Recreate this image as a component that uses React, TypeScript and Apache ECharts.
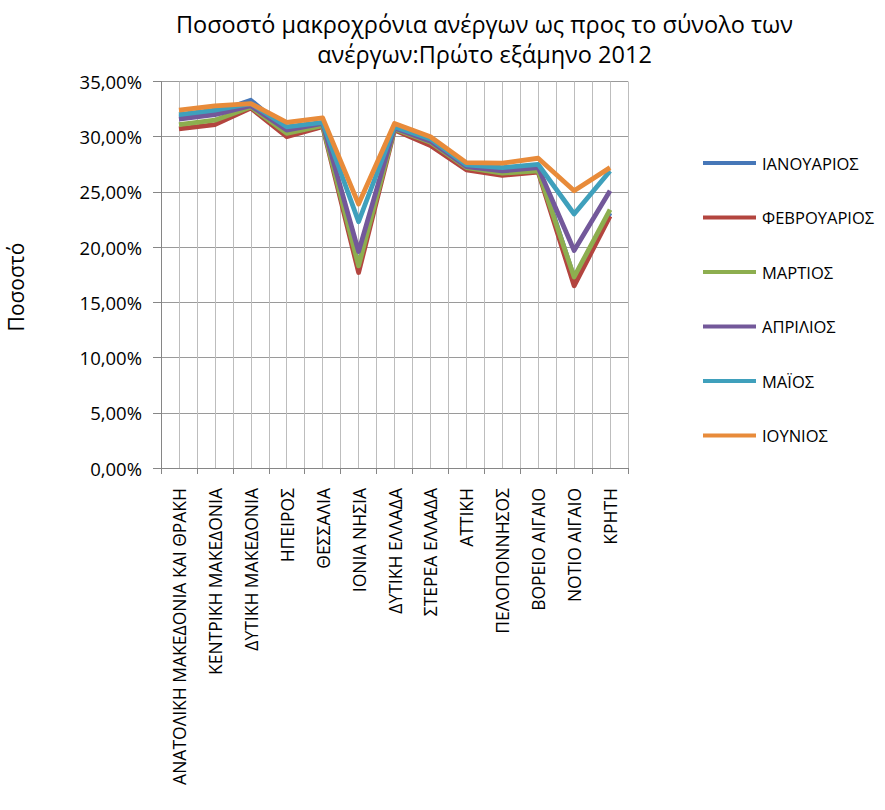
import React, { useEffect, useRef } from "react";
import * as echarts from "echarts";

const categories = [
  "ΑΝΑΤΟΛΙΚΗ ΜΑΚΕΔΟΝΙΑ ΚΑΙ ΘΡΑΚΗ",
  "ΚΕΝΤΡΙΚΗ ΜΑΚΕΔΟΝΙΑ",
  "ΔΥΤΙΚΗ ΜΑΚΕΔΟΝΙΑ",
  "ΗΠΕΙΡΟΣ",
  "ΘΕΣΣΑΛΙΑ",
  "ΙΟΝΙΑ ΝΗΣΙΑ",
  "ΔΥΤΙΚΗ ΕΛΛΑΔΑ",
  "ΣΤΕΡΕΑ ΕΛΛΑΔΑ",
  "ΑΤΤΙΚΗ",
  "ΠΕΛΟΠΟΝΝΗΣΟΣ",
  "ΒΟΡΕΙΟ ΑΙΓΑΙΟ",
  "ΝΟΤΙΟ ΑΙΓΑΙΟ",
  "ΚΡΗΤΗ",
];

const seriesNames = ["ΙΑΝΟΥΑΡΙΟΣ", "ΦΕΒΡΟΥΑΡΙΟΣ", "ΜΑΡΤΙΟΣ", "ΑΠΡΙΛΙΟΣ", "ΜΑΪΟΣ", "ΙΟΥΝΙΟΣ"];

const january = [31.8, 32.2, 33.3, 30.6, 31.2, 18.3, 30.8, 29.5, 27.2, 26.9, 27.2, 17.2, 23.1];
const february = [30.7, 31.1, 32.6, 30.0, 30.9, 17.7, 30.6, 29.2, 27.0, 26.5, 26.8, 16.5, 22.8];
const march = [31.1, 31.5, 32.7, 30.3, 31.0, 18.3, 30.7, 29.5, 27.2, 26.7, 26.9, 17.3, 23.4];
const april = [31.6, 32.0, 32.8, 30.6, 31.2, 19.6, 30.8, 29.6, 27.3, 26.9, 27.2, 19.7, 25.1];
const may = [32.0, 32.4, 33.0, 30.9, 31.3, 22.3, 30.9, 29.8, 27.45, 27.2, 27.5, 23.0, 26.9];
const june = [32.4, 32.8, 33.0, 31.3, 31.7, 23.9, 31.2, 30.0, 27.65, 27.6, 28.05, 25.1, 27.2];

const seriesValues = [january, february, march, april, may, june];
const colors = ["#4677B8", "#B3453F", "#8DAE4F", "#73589A", "#3FA0BC", "#E88B3A"];

const yMin = 0;
const yMax = 35;
const yInterval = 5;

const titleLines = ["Ποσοστό μακροχρόνια ανέργων ως προς το σύνολο των", "ανέργων:Πρώτο εξάμηνο 2012"];
const yAxisTitle = "Ποσοστό";

const FONT = "'Open Sans', 'Noto Sans', sans-serif";

export default function App() {
  const ref = useRef<HTMLDivElement>(null);
  useEffect(() => {
    if (!ref.current) return;
    const chart = echarts.init(ref.current, null, { renderer: "svg" });
    const gridLeft = 161;
    const gridTop = 81.5;
    const gridRight = 885 - 628;
    const gridBottom = 810 - 468;
    chart.setOption({
      animation: false,
      backgroundColor: "#ffffff",
      textStyle: { fontFamily: FONT },
      grid: { left: gridLeft, top: gridTop, right: gridRight, bottom: gridBottom, containLabel: false },
      graphic: [
        {
          type: "text",
          x: 484.5,
          y: 9,
          style: {
            text: titleLines.join("\n"),
            font: `23.5px ${FONT}`,
            fill: "#000",
            textAlign: "center",
            lineHeight: 30,
          },
        },
        {
          type: "text",
          x: 16,
          y: 287,
          rotation: Math.PI / 2,
          style: {
            text: yAxisTitle,
            font: `21px ${FONT}`,
            fill: "#000",
            textAlign: "center",
            textVerticalAlign: "middle",
          },
        },
      ],
      legend: {
        orient: "vertical",
        left: 698,
        top: 148,
        icon: "rect",
        itemWidth: 53,
        itemHeight: 4,
        itemGap: 34.5,
        data: seriesNames,
        textStyle: { fontFamily: FONT, fontSize: 16.5, color: "#000", lineHeight: 20, padding: [0, 0, 0, 1] },
      },
      xAxis: [
        {
          type: "category",
          data: categories,
          boundaryGap: true,
          axisLine: { lineStyle: { color: "#868686", width: 1 } },
          axisTick: { show: true, length: 6, lineStyle: { color: "#868686" } },
          splitLine: { show: false },
          axisLabel: {
            rotate: 90,
            interval: 0,
            margin: 20,
            fontFamily: FONT,
            fontSize: 17.5,
            color: "#000",
          },
        },
        {
          type: "value",
          min: 0,
          max: categories.length * 2,
          interval: 1,
          position: "bottom",
          axisLine: { show: false },
          axisTick: { show: false },
          axisLabel: { show: false },
          splitLine: { show: true, lineStyle: { color: "#bdbdbd", width: 1 } },
        },
      ],
      yAxis: {
        type: "value",
        min: yMin,
        max: yMax,
        interval: yInterval,
        axisLine: { show: true, lineStyle: { color: "#868686", width: 1 } },
        axisTick: { show: true, length: 8, lineStyle: { color: "#868686" } },
        splitLine: { show: true, lineStyle: { color: "#9a9a9a", width: 1 } },
        axisLabel: {
          margin: 19,
          fontFamily: FONT,
          fontSize: 18.5,
          color: "#000",
          formatter: (v: number) => v.toFixed(2).replace(".", ",") + "%",
        },
      },
      series: seriesValues.map((vals, i) => ({
        name: seriesNames[i],
        type: "line",
        xAxisIndex: 0,
        data: vals,
        symbol: "none",
        lineStyle: { color: colors[i], width: 4.8, join: "round" },
        itemStyle: { color: colors[i] },
      })),
    });
    return () => chart.dispose();
  }, []);
  return <div ref={ref} style={{ width: 885, height: 810, position: "absolute", left: 0, top: 0 }} />;
}
